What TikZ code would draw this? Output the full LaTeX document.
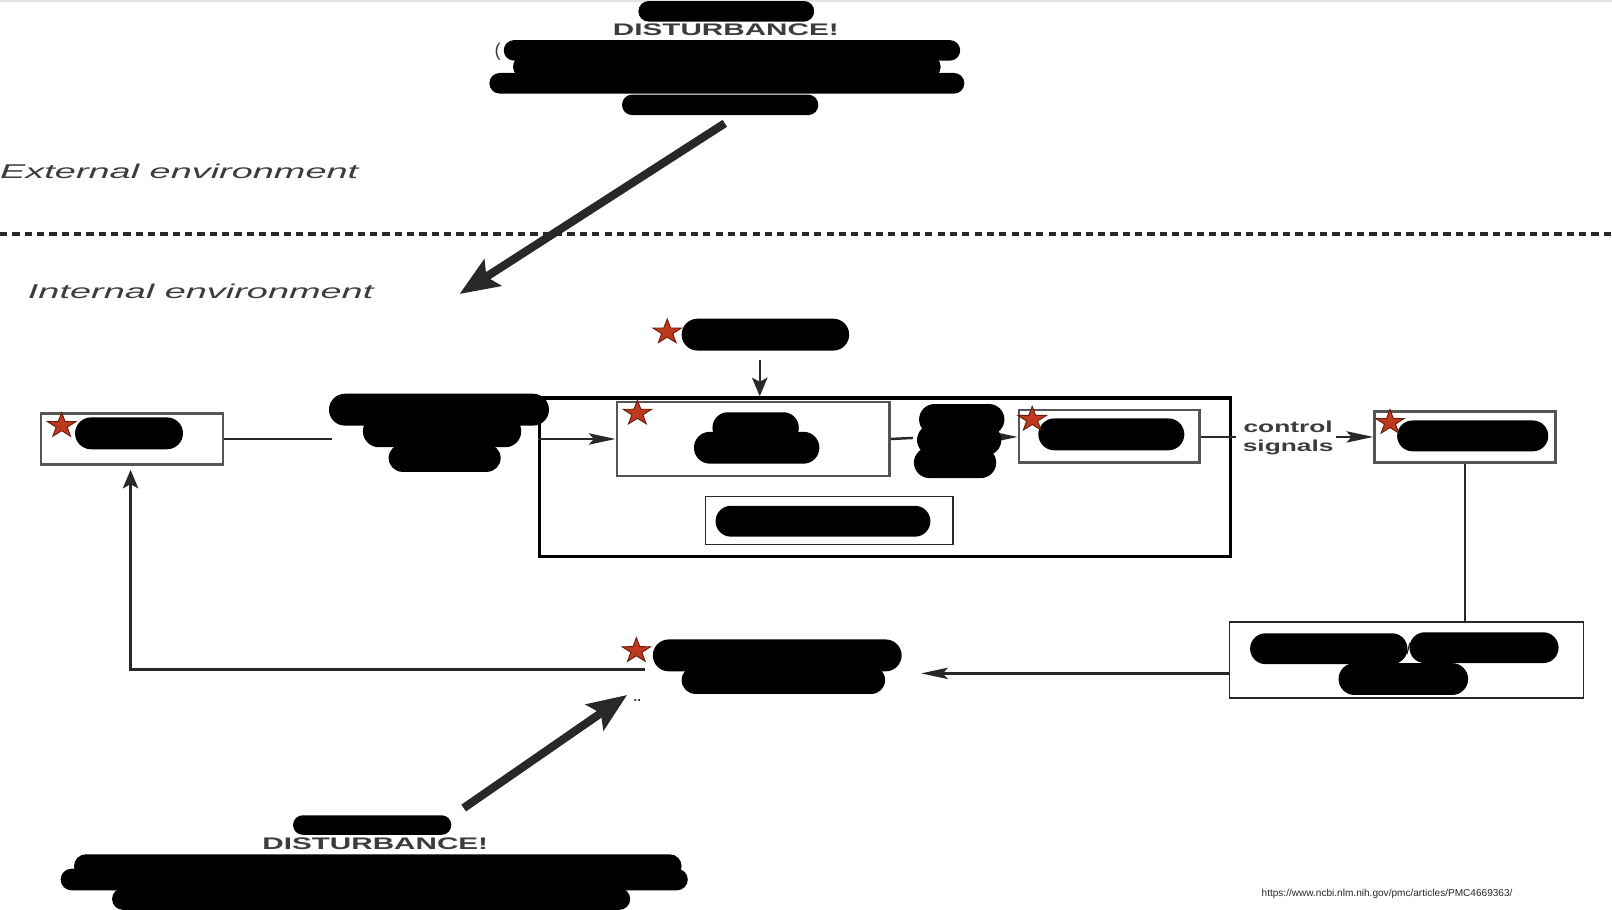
\documentclass[tikz,border=0pt]{standalone}
\usepackage{fontspec}
\setmainfont{Liberation Sans}
\usepackage{graphicx}
\usetikzlibrary{arrows.meta,shapes.misc}
\definecolor{starfill}{RGB}{190,58,30}
\definecolor{stardraw}{RGB}{105,28,12}
\definecolor{ink}{RGB}{40,40,40}
\definecolor{boxgray}{RGB}{85,85,85}
\definecolor{txtgray}{RGB}{60,60,60}
\newcommand\hstretch[2]{\scalebox{#1}[1]{#2}}
\begin{document}
\begin{tikzpicture}[x=1pt,y=-1pt,
  blob/.style={rounded rectangle, fill=black, inner sep=0pt, draw=none},
  thickbox/.style={draw=boxgray, line width=2.5pt, inner sep=0pt},
  thinbox/.style={draw=ink, line width=1.1pt, inner sep=0pt},
  conn/.style={draw=ink, line width=2.4pt},
  harr/.style={conn, -{Stealth[length=26pt,width=11pt,inset=5pt]}},
  varr/.style={conn, -{Stealth[length=18pt,width=15pt,inset=4pt]}},
  bigarr/.style={draw=ink, line width=8pt, -{Stealth[length=38pt,width=30pt,inset=7pt]}},
  envtext/.style={inner sep=0pt, anchor=base west, text=txtgray, font=\fontsize{19.4}{23}\selectfont\itshape},
  disttext/.style={inner sep=0pt, anchor=base, text=txtgray, font=\fontsize{16.3}{19}\selectfont\bfseries},
  ctrltext/.style={inner sep=0pt, anchor=base, text=txtgray, font=\fontsize{15.5}{18}\selectfont\bfseries},
  redstar/.pic={\draw[fill=starfill, draw=stardraw, line width=0.9pt, xscale=1.15]
     (-90:12.7) -- (-54:4.9) -- (-18:12.7) -- (18:4.9) -- (54:12.7) -- (90:4.9)
     -- (126:12.7) -- (162:4.9) -- (198:12.7) -- (234:4.9) -- cycle;}
]
\useasboundingbox[fill=white] (0,0) rectangle (1568,885);
\draw[gray!22, line width=1.5pt] (0,0.75) -- (1568,0.75);

% environment labels and divider
\node[envtext] (ext) at (0,174) {\hstretch{1.9}{External environment}};
\node[envtext] (int) at (27,290) {\hstretch{1.9}{Internal environment}};
\draw[ink, line width=4pt, dash pattern=on 7pt off 5pt] (0,228) -- (1568,228);

% boxes
\node[draw=black, line width=3.2pt, inner sep=0pt, minimum width=672pt, minimum height=154pt] (bigbox) at (861,464) {};
\node[thickbox, minimum width=177pt, minimum height=50pt] (boxL) at (128.5,427) {};
\node[thickbox, minimum width=265pt, minimum height=72pt] (boxC1) at (732.5,427) {};
\node[thickbox, minimum width=176pt, minimum height=51pt] (boxC2) at (1079,424.5) {};
\node[thickbox, minimum width=176pt, minimum height=50pt] (boxR) at (1425,425) {};
\node[thinbox, minimum width=241pt, minimum height=47pt] (boxC3) at (806.5,506.5) {};
\node[thinbox, minimum width=344pt, minimum height=74pt] (boxBR) at (1368,642) {};

% connector coordinates
\coordinate (bIn) at (323,427);
\coordinate (tdown) at (739,350);
\coordinate (c1R) at (888,426);
\coordinate (dR) at (950,425);
\coordinate (ctrlL) at (1202,425);
\coordinate (ctrlR) at (1300,425);
\coordinate (brW) at (1196,655);
\coordinate (eR) at (896,655);
\coordinate (fbS) at (627,651);
\coordinate (fbT) at (127,457);
\coordinate (ba1s) at (705,120);
\coordinate (ba1e) at (447,286);
\coordinate (ba2s) at (451,786);
\coordinate (ba2e) at (610,676);

% connectors
\draw[conn] (boxL.east) -- (bIn);
\draw[harr] (bigbox.west |- boxC1.west) -- (boxC1.west);
\draw[varr] (tdown) -- (tdown |- bigbox.north);
\draw[conn] (boxC1.east) -- (c1R);
\draw[harr] (dR) -- (dR -| boxC2.west);
\draw[conn] (boxC2.east |- ctrlL) -- (ctrlL);
\draw[harr] (ctrlR) -- (ctrlR -| boxR.west);
\draw[conn] (boxR.south) -- (boxR.south |- boxBR.north);
\draw[harr] (brW) -- (eR);
\draw[varr] (fbS) -| (fbT);
\draw[bigarr] (ba1s) -- (ba1e);
\draw[bigarr] (ba2s) -- (ba2e);

% redaction blobs
\node[blob, minimum width=171pt, minimum height=20pt] (A1) at (706.5,11) {};
\node[blob, minimum width=444pt, minimum height=20pt] (A2) at (712,49) {};
\node[blob, minimum width=416pt, minimum height=22pt] (A3) at (707,65) {};
\node[blob, minimum width=462pt, minimum height=20pt] (A4) at (707,81) {};
\node[blob, minimum width=191pt, minimum height=20pt] (A5) at (700.5,102) {};
\node[blob, minimum width=163pt, minimum height=31pt] (T) at (744.5,325.5) {};
\node[blob, minimum width=105pt, minimum height=31pt] (L) at (125.5,421.5) {};
\node[blob, minimum width=214pt, minimum height=31pt] (B1) at (427,398.5) {};
\node[blob, minimum width=154pt, minimum height=31pt] (B2) at (430,419.5) {};
\node[blob, minimum width=109pt, minimum height=27pt] (B3) at (432.5,445.5) {};
\node[blob, minimum width=84pt, minimum height=30pt] (C1a) at (735,416) {};
\node[blob, minimum width=122pt, minimum height=31pt] (C1b) at (736,435.5) {};
\node[blob, minimum width=83pt, minimum height=30pt] (D1) at (935.5,408) {};
\node[blob, minimum width=82pt, minimum height=30pt] (D2) at (933,428) {};
\node[blob, minimum width=80pt, minimum height=30pt] (D3) at (929,450) {};
\node[blob, minimum width=142pt, minimum height=31pt] (C2a) at (1081,422.5) {};
\node[blob, minimum width=147pt, minimum height=30pt] (R) at (1432.5,424) {};
\node[blob, minimum width=209pt, minimum height=30pt] (C3a) at (800.5,507) {};
\node[blob, minimum width=153pt, minimum height=30pt] (BR1) at (1292.5,631) {};
\node[blob, minimum width=145pt, minimum height=30pt] (BR2) at (1443.5,630) {};
\node[blob, minimum width=126pt, minimum height=31pt] (BR3) at (1365,660.5) {};
\node[blob, minimum width=242pt, minimum height=31pt] (E1) at (756,637.5) {};
\node[blob, minimum width=198pt, minimum height=27pt] (E2) at (762,661.5) {};
\node[blob, minimum width=154pt, minimum height=19pt] (F0) at (362,802.5) {};
\node[blob, minimum width=591pt, minimum height=23pt] (F1) at (367.5,842.5) {};
\node[blob, minimum width=610pt, minimum height=21pt] (F2) at (364,855.5) {};
\node[blob, minimum width=504pt, minimum height=21pt] (F3) at (361,874.5) {};

% stars
\pic at (60,414) {redstar};
\pic at (649,323) {redstar};
\pic at (620,402) {redstar};
\pic at (1004,408) {redstar};
\pic at (1352,411) {redstar};
\pic at (619,633) {redstar};

% texts
\node[disttext] (dist1) at (706,35) {\hstretch{1.77}{DISTURBANCE!}};
\node[disttext] (dist2) at (365,826) {\hstretch{1.77}{DISTURBANCE!}};
\node[inner sep=0pt, anchor=base west, text=txtgray, font=\fontsize{18}{20}\selectfont] (paren) at (481,55) {(};
\node[ctrltext] (ctrl1) at (1253,421) {\hstretch{1.65}{control}};
\node[ctrltext] (ctrl2) at (1253,439) {\hstretch{1.65}{signals}};
\node[inner sep=0pt, font=\fontsize{15}{18}\selectfont] (slash) at (1370,631) {/};
\node[inner sep=0pt, text=txtgray, font=\fontsize{13}{14}\selectfont\bfseries] (dots) at (620,681) {..};
\node[inner sep=0pt, anchor=base west, text=ink, font=\fontsize{9.8}{12}\selectfont] (url) at (1227,872) {https://www.ncbi.nlm.nih.gov/pmc/articles/PMC4669363/};
\end{tikzpicture}
\end{document}
